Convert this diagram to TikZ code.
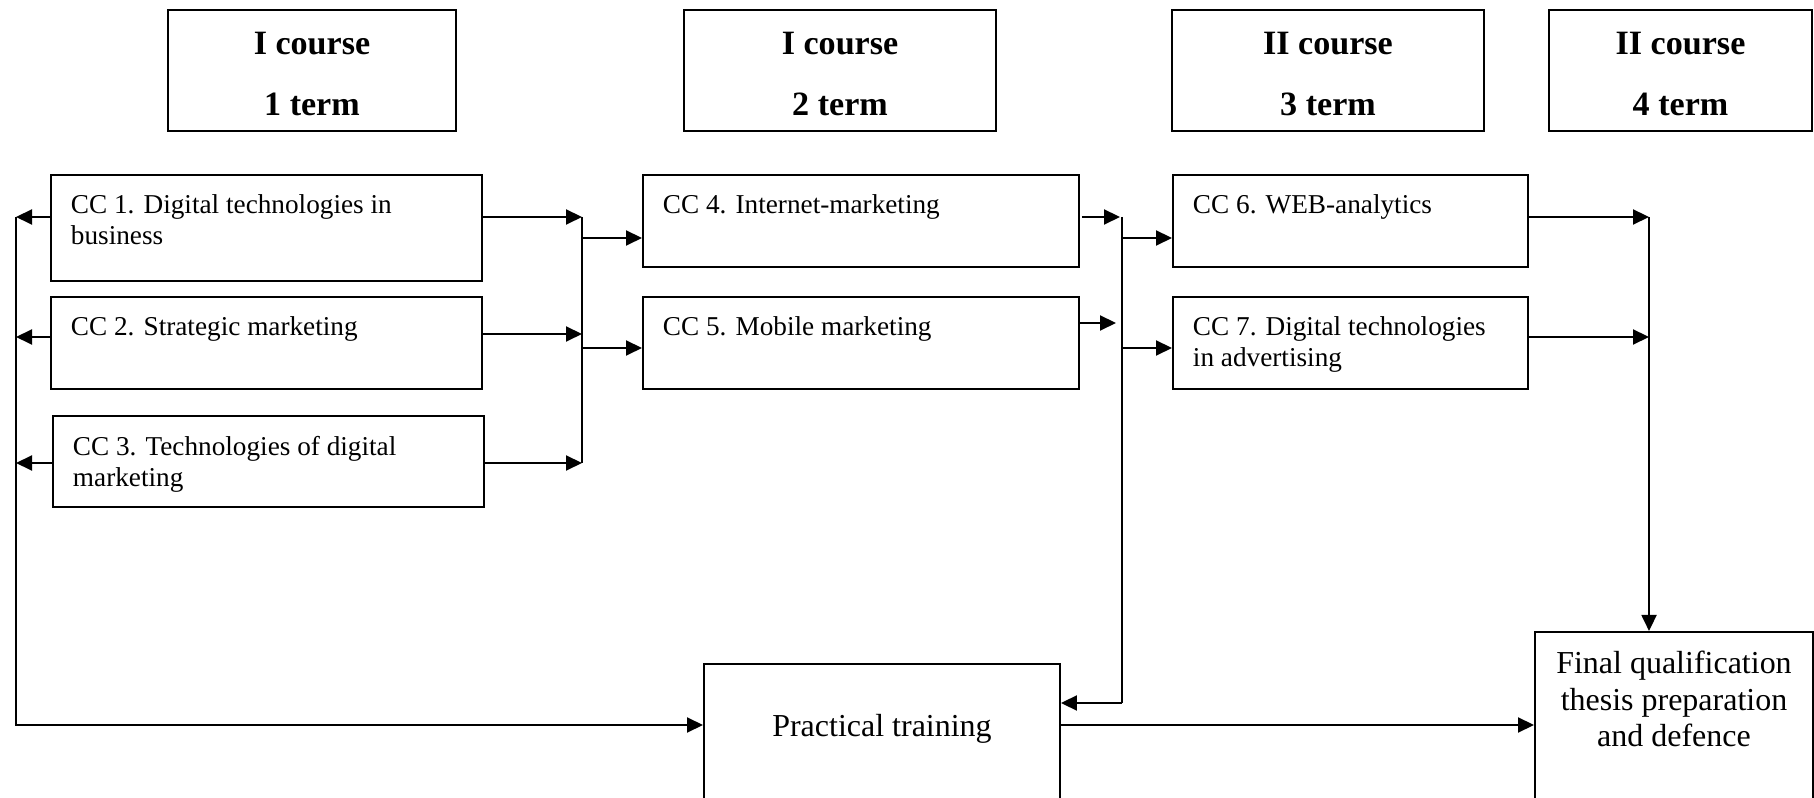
\documentclass[tikz,border=0pt]{standalone}
\usepackage{fontspec}
\setmainfont{Liberation Serif}
\usetikzlibrary{positioning, calc, arrows.meta}
\tikzset{>={Triangle[length=1.6mm,width=1.5mm]}}
\newcommand{\cctext}[3]{\parbox[t][#2][t]{#1}{#3}}
\newcommand{\termtop}{\rule{0pt}{3.0mm}}

\begin{document}
\begin{tikzpicture}
    [
        line width=0.55pt,
        term_box/.style={draw, align=center, minimum height=12.1mm, font=\fontsize{9.7}{17.3}\selectfont\bfseries},
        cc_box/.style={draw, anchor=north west, inner xsep=2mm, inner ysep=2mm, font=\fontsize{7.75}{8.8}\selectfont},
        big_box/.style={draw, anchor=north west, inner xsep=0mm, font=\fontsize{9.1}{10.4}\selectfont},
    ]

  \useasboundingbox (0,0) rectangle (18.14,-7.98);
  \clip (0,0) rectangle (18.14,-7.98);

  % terms
  \node[term_box, minimum width=28.8mm] (T1) at (3.12,-0.705) {\termtop I course\\1 term};
  \node[term_box, minimum width=31.2mm] (T2) at (8.40,-0.705) {\termtop I course\\2 term};
  \node[term_box, minimum width=31.2mm] (T3) at (13.28,-0.705) {\termtop II course\\3 term};
  \node[term_box, minimum width=26.3mm] (T4) at (16.805,-0.705) {\termtop II course\\4 term};

  % disciplines
  \node[cc_box] (CC1) at (0.50,-1.74) {\cctext{39.1mm}{6.6mm}{CC 1. Digital technologies in\\business}};
  \node[cc_box] (CC2) at (0.50,-2.96) {\cctext{39.1mm}{5.2mm}{CC 2. Strategic marketing}};
  \node[cc_box] (CC3) at (0.52,-4.15) {\cctext{39.1mm}{5.1mm}{CC 3. Technologies of digital\\marketing}};
  \node[cc_box] (CC4) at (6.42,-1.74) {\cctext{39.6mm}{5.2mm}{CC 4. Internet-marketing}};
  \node[cc_box] (CC5) at (6.42,-2.96) {\cctext{39.6mm}{5.2mm}{CC 5. Mobile marketing}};
  \node[cc_box] (CC6) at (11.72,-1.74) {\cctext{31.5mm}{5.2mm}{CC 6. WEB-analytics}};
  \node[cc_box] (CC7) at (11.72,-2.96) {\cctext{31.5mm}{5.2mm}{CC 7. Digital technologies\\in advertising}};

  \node[big_box, minimum width=35.6mm, inner ysep=0mm, text height=7.3mm, text depth=7.9mm] (PT) at (7.03,-6.63) {Practical training};
  \node[big_box, inner ysep=1.9mm] (FQ) at (15.34,-6.31) {\parbox[t][15mm][t]{27.8mm}{\centering Final qualification\\thesis preparation\\and defence}};

  % bus points
  \coordinate (L1) at (0.16,-2.17);
  \coordinate (L2) at (0.16,-3.37);
  \coordinate (L3) at (0.16,-4.63);
  \coordinate (Lb) at (0.16,-7.25);
  \coordinate (R1) at (5.82,-2.17);
  \coordinate (R2) at (5.82,-3.34);
  \coordinate (R3) at (5.82,-4.63);
  \coordinate (R4) at (5.82,-2.38);
  \coordinate (R5) at (5.82,-3.48);
  \coordinate (M1) at (11.20,-2.17);
  \coordinate (M2) at (11.16,-3.23);
  \coordinate (M0) at (11.22,-2.17);
  \coordinate (M4) at (11.22,-2.38);
  \coordinate (M5) at (11.22,-3.48);
  \coordinate (Mb) at (11.22,-7.03);
  \coordinate (F1) at (16.49,-2.17);
  \coordinate (F2) at (16.49,-3.37);

  % left bus
  \draw[->] (CC1.west |- L1) -- (L1);
  \draw[->] (CC2.west |- L2) -- (L2);
  \draw[->] (CC3.west |- L3) -- (L3);
  \draw[->] (L1) -- (Lb) -- (PT.west |- Lb);

  % first term to second term
  \draw[->] (CC1.east |- R1) -- (R1);
  \draw[->] (CC2.east |- R2) -- (R2);
  \draw[->] (CC3.east |- R3) -- (R3);
  \draw (R1) -- (R3);
  \draw[->] (R4) -- (CC4.west |- R4);
  \draw[->] (R5) -- (CC5.west |- R5);

  % second term to third term
  \draw[->] ($(CC4.east |- M1)+(0.02,0)$) -- (M1);
  \draw[->] (CC5.east |- M2) -- (M2);
  \draw (M0) -- (Mb);
  \draw[->] (Mb) -- (PT.east |- Mb);
  \draw[->] (M4) -- (CC6.west |- M4);
  \draw[->] (M5) -- (CC7.west |- M5);

  % third term to final
  \draw[->] (CC6.east |- F1) -- (F1);
  \draw[->] (CC7.east |- F2) -- (F2);
  \draw[->] (F1) -- (F1 |- FQ.north);
  \draw[->] (PT.east |- Lb) -- (FQ.west |- Lb);
\end{tikzpicture}
\end{document}
